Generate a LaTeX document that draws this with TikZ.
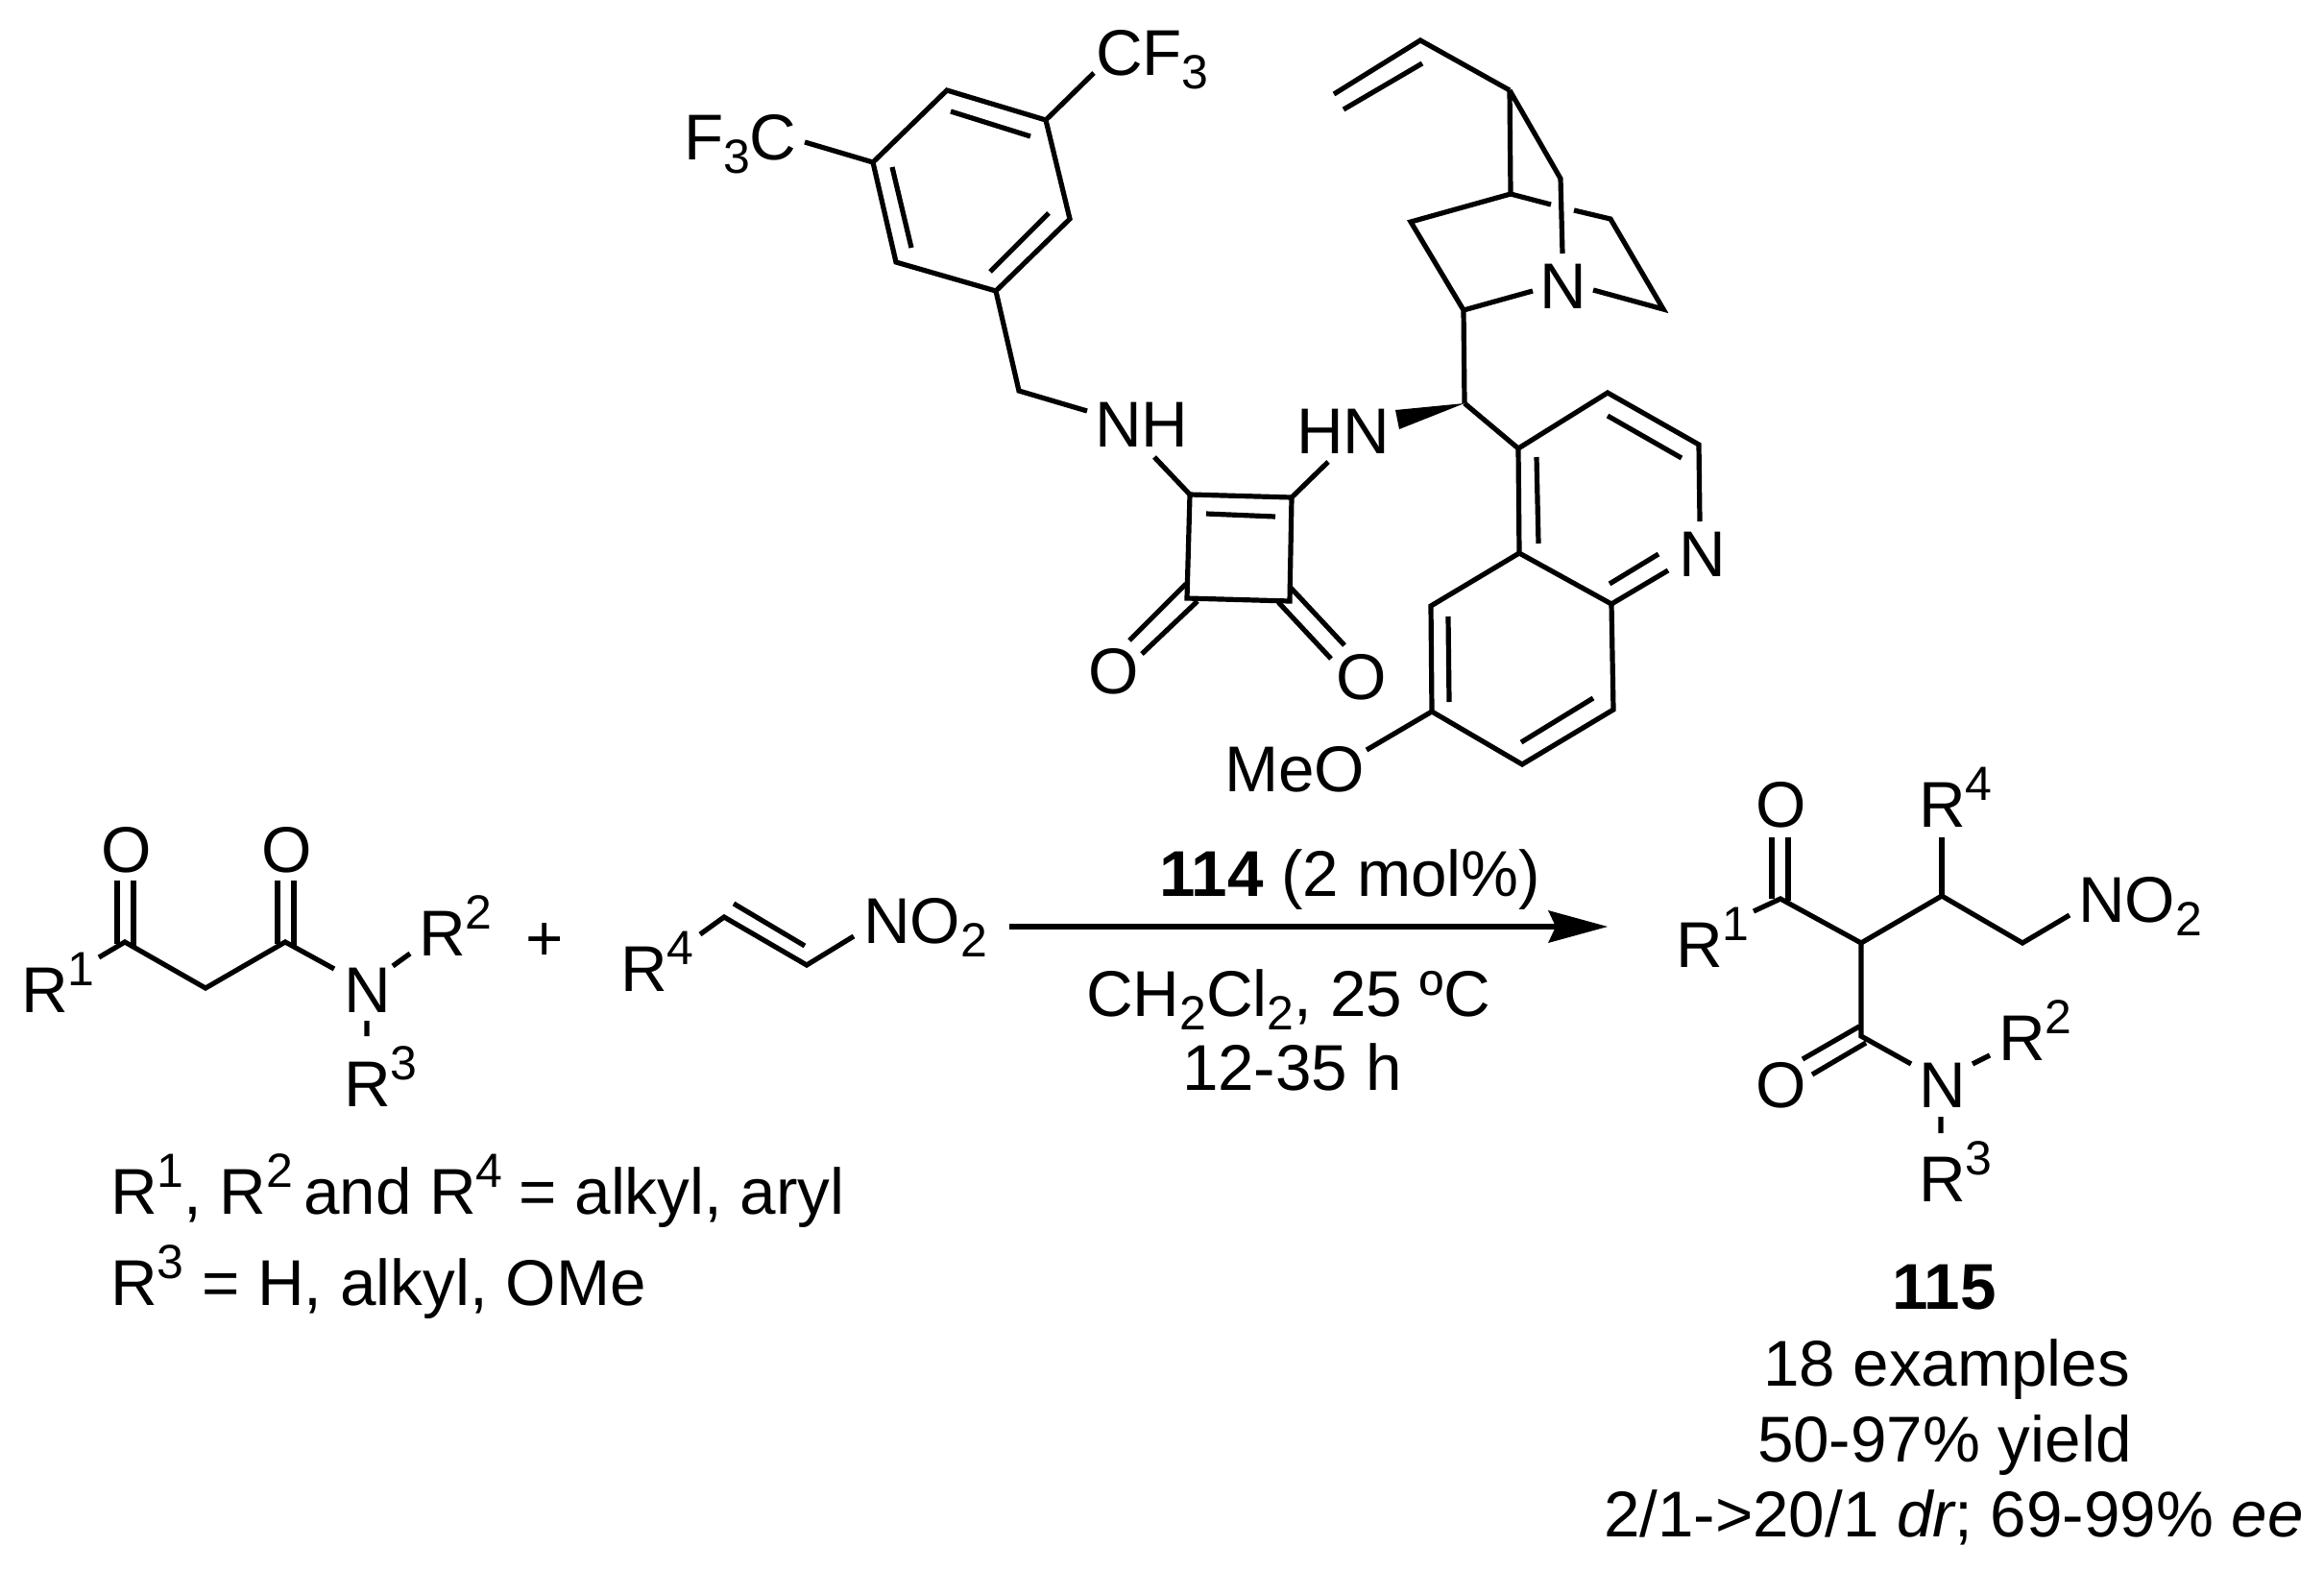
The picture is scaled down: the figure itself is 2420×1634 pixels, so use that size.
\documentclass[tikz,border=0pt]{standalone}
\usepackage{fontspec}
\setmainfont{Liberation Sans}
\newcommand{\subs}[1]{\raisebox{-7pt}{\fontsize{25}{25}\selectfont #1}}
\newcommand{\sups}[1]{\raisebox{14pt}{\fontsize{25}{25}\selectfont #1}}
\tikzset{
  bond/.style={line width=2.6pt,line join=miter,line cap=butt},
  lbl/.style={inner sep=0pt,outer sep=0pt,anchor=base west,font=\fontsize{33.7}{33.7}\selectfont},
  pt/.style={inner sep=0pt}
}
\begin{document}
\begin{tikzpicture}[x=0.5pt,y=-0.5pt]
\useasboundingbox (0,0) rectangle (2420,1634);
% ---------- catalyst: aryl
\coordinate (a1) at (986,94);\coordinate (a2) at (1089,125);\coordinate (a3) at (1114,228);
\coordinate (a4) at (1037,303);\coordinate (a5) at (933,273);\coordinate (a6) at (909,169);
\coordinate (a1i) at (990,116);\coordinate (a2i) at (1073,142);
\coordinate (a3i) at (1092,222);\coordinate (a4i) at (1031,283);
\coordinate (a6i) at (929,174);\coordinate (a5i) at (949,258);
\coordinate (cf3e) at (1139,76);\coordinate (f3ce) at (838,148);
\coordinate (ch2) at (1061,407);\coordinate (nhl) at (1132,428);
\node[lbl] (CFthree) at (1141,78) {CF\subs{3}};
\node[lbl] (FthreeC) at (712,166) {F\subs{3}C};
\draw[bond] (a1)--(a2)--(a3)--(a4)--(a5)--(a6)--cycle;
\draw[bond] (a1i)--(a2i) (a3i)--(a4i) (a6i)--(a5i);
\draw[bond] (a2)--(cf3e) (a6)--(f3ce) (a4)--(ch2)--(nhl);
% ---------- squarate
\coordinate (s1) at (1239,515);\coordinate (s2) at (1345,518);
\coordinate (s3) at (1343,626);\coordinate (s4) at (1236,623);
\coordinate (s1i) at (1256,535);\coordinate (s2i) at (1328,538);
\coordinate (nhb) at (1202,476);\coordinate (hnb) at (1383,481);
\coordinate (ol1) at (1235,608);\coordinate (ol2) at (1176,667);
\coordinate (ol3) at (1247,626);\coordinate (ol4) at (1189,681);
\coordinate (or1) at (1344,612);\coordinate (or2) at (1400,672);
\coordinate (or3) at (1331,627);\coordinate (or4) at (1386,686);
\node[lbl] (NHl) at (1140,465) {NH};
\node[lbl] (HNl) at (1350,472) {HN};
\node[lbl] (Ol) at (1133,722) {O};
\node[lbl] (Or) at (1391,728) {O};
\draw[bond] (s1)--(s2)--(s3)--(s4)--cycle;
\draw[bond] (s1i)--(s2i) (nhb)--(s1) (hnb)--(s2);
\draw[bond] (ol1)--(ol2) (ol3)--(ol4) (or1)--(or2) (or3)--(or4);
% ---------- quinuclidine
\coordinate (v1) at (1389,98);\coordinate (v2) at (1479,42);\coordinate (q1) at (1572,94);
\coordinate (v1i) at (1399,114);\coordinate (v2i) at (1481,66);
\coordinate (q2) at (1573,202);\coordinate (q3) at (1625,186);\coordinate (q3n) at (1627,264);
\coordinate (q2g) at (1615,213);\coordinate (q4g) at (1639,219);
\coordinate (q4) at (1677,228);\coordinate (q5) at (1732,322);\coordinate (q5n) at (1659,302);
\coordinate (q6) at (1469,231);\coordinate (q7) at (1524,323);\coordinate (q7n) at (1596,303);
\coordinate (st) at (1525,420);
\coordinate (w1) at (1453,427);\coordinate (w2) at (1457,447);
\node[lbl] (Nq) at (1603,321) {N};
\draw[bond] (v1)--(v2)--(q1) (v1i)--(v2i);
\draw[bond] (q1)--(q2) (q1)--(q3)--(q3n);
\draw[bond] (q2)--(q2g) (q4g)--(q4)--(q5)--(q5n);
\draw[bond] (q2)--(q6)--(q7)--(q7n) (q7)--(st);
\fill (st)--(w1)--(w2)--cycle;
% ---------- quinoline
\coordinate (k1) at (1581,467);\coordinate (k2) at (1674,409);\coordinate (k3) at (1769,463);
\coordinate (k4) at (1770,543);\coordinate (k5) at (1737,594);\coordinate (k6) at (1678,629);
\coordinate (k7) at (1582,576);\coordinate (k8) at (1490,631);\coordinate (k9) at (1491,741);
\coordinate (k10) at (1585,796);\coordinate (k11) at (1680,739);
\coordinate (i1) at (1600,476);\coordinate (i2) at (1602,566);
\coordinate (i3) at (1674,433);\coordinate (i4) at (1751,477);
\coordinate (i5) at (1727,577);\coordinate (i6) at (1676,608);
\coordinate (i7) at (1508,642);\coordinate (i8) at (1509,731);
\coordinate (i9) at (1584,773);\coordinate (i10) at (1659,727);
\coordinate (meob) at (1423,781);
\node[lbl] (Nk) at (1748,600) {N};
\node[lbl] (MeO) at (1275,824) {MeO};
\draw[bond] (st)--(k1)--(k2)--(k3)--(k4) (k5)--(k6)--(k7)--(k1);
\draw[bond] (k7)--(k8)--(k9)--(k10)--(k11)--(k6) (k9)--(meob);
\draw[bond] (i1)--(i2) (i3)--(i4) (i5)--(i6) (i7)--(i8) (i9)--(i10);
% ---------- left substrate
\coordinate (c1) at (130,981);\coordinate (c2) at (214,1029);\coordinate (c3) at (297,981);
\coordinate (d1a) at (122,917);\coordinate (d1b) at (122,983);\coordinate (d1c) at (139,917);\coordinate (d1d) at (139,985);
\coordinate (d2a) at (289,917);\coordinate (d2b) at (289,983);\coordinate (d2c) at (306,917);\coordinate (d2d) at (306,985);
\coordinate (r1b) at (103,997);\coordinate (nb) at (348,1009);
\coordinate (nr2a) at (409,1006);\coordinate (nr2b) at (427,993);
\coordinate (nr3a) at (382,1063);\coordinate (nr3b) at (382,1079);
\node[lbl] (sO1) at (105,908) {O};
\node[lbl] (sO2) at (272,908) {O};
\node[lbl] (sR1) at (22,1054) {R\sups{1}};
\node[lbl] (sN) at (358,1054) {N};
\node[lbl] (sR2) at (436,995) {R\sups{2}};
\node[lbl] (sR3) at (358,1152) {R\sups{3}};
\node[lbl,anchor=base] (plus) at (567,1000) {+};
\draw[bond] (r1b)--(c1)--(c2)--(c3)--(nb);
\draw[bond] (d1a)--(d1b) (d1c)--(d1d) (d2a)--(d2b) (d2c)--(d2d);
\draw[bond] (nr2a)--(nr2b) (nr3a)--(nr3b);
% ---------- nitroalkene
\coordinate (e0) at (729,973);\coordinate (e1) at (754,955);\coordinate (e2) at (840,1005);\coordinate (e3) at (889,975);
\coordinate (e1i) at (764,941);\coordinate (e2i) at (838,985);
\node[lbl] (eR4) at (646,1032) {R\sups{4}};
\node[lbl] (eNO) at (899,982) {NO\subs{2}};
\draw[bond] (e0)--(e1)--(e2)--(e3) (e1i)--(e2i);
% ---------- captions
\node[lbl] (cap1) at (115,1264) {R\sups{1}, R\sups{2}\hspace{-4pt} and R\sups{4}\hspace{-1pt} = alkyl, aryl};
\node[lbl] (cap2) at (115,1359) {R\sups{3} = H, alkyl, OMe};
% ---------- arrow
\coordinate (ar0) at (1051,965);\coordinate (ar1) at (1622,965);
\coordinate (tip) at (1674,965);\coordinate (tb1) at (1612,948);\coordinate (tb2) at (1612,982);\coordinate (tn) at (1620,965);
\draw[bond] (ar0)--(ar1);
\fill (tip)--(tb1)--(tn)--(tb2)--cycle;
\node[lbl] (cat) at (1207,933) {\bfseries 114\mdseries{} (2 mol\%)};
\node[lbl] (solv) at (1131,1058) {CH\subs{2}Cl\subs{2}, 25 ºC};
\node[lbl] (time) at (1231,1135) {12-35 h};
% ---------- product
\coordinate (p1) at (1854,936);\coordinate (p2) at (1938,982);\coordinate (p3) at (2022,933);
\coordinate (p4) at (2106,982);\coordinate (p5) at (2155,953);
\coordinate (pd1) at (1845,872);\coordinate (pd2) at (1845,936);\coordinate (pd3) at (1862,872);\coordinate (pd4) at (1862,938);
\coordinate (pr4) at (2022,872);\coordinate (pr1) at (1826,949);
\coordinate (p6) at (1938,1079);\coordinate (p7) at (1990,1108);
\coordinate (po1) at (1877,1103);\coordinate (po2) at (1936,1069);
\coordinate (po3) at (1887,1119);\coordinate (po4) at (1943,1086);
\coordinate (pn1) at (2054,1108);\coordinate (pn2) at (2072,1099);
\coordinate (pn3) at (2021,1163);\coordinate (pn4) at (2021,1180);
\node[lbl] (pO1) at (1828,861) {O};
\node[lbl] (pR4) at (1998,861) {R\sups{4}};
\node[lbl] (pNO) at (2164,960) {NO\subs{2}};
\node[lbl] (pR1) at (1745,1007) {R\sups{1}};
\node[lbl] (pO2) at (1828,1153) {O};
\node[lbl] (pN) at (1998,1153) {N};
\node[lbl] (pR2) at (2081,1104) {R\sups{2}};
\node[lbl] (pR3) at (1998,1251) {R\sups{3}};
\draw[bond] (pr1)--(p1)--(p2)--(p3)--(p4)--(p5);
\draw[bond] (pd1)--(pd2) (pd3)--(pd4) (pr4)--(p3);
\draw[bond] (p2)--(p6)--(p7) (po1)--(po2) (po3)--(po4);
\draw[bond] (pn1)--(pn2) (pn3)--(pn4);
\node[lbl,font=\fontsize{33.7}{33.7}\selectfont\bfseries] (num) at (1970,1363) {115};
\node[lbl] (ex) at (1836,1443) {18 examples};
\node[lbl] (yield) at (1830,1522) {50-97\% yield};
\node[lbl] (dr) at (1670,1600) {2/1->20/1 \itshape dr\upshape; 69-99\% \itshape ee};
\end{tikzpicture}
\end{document}
